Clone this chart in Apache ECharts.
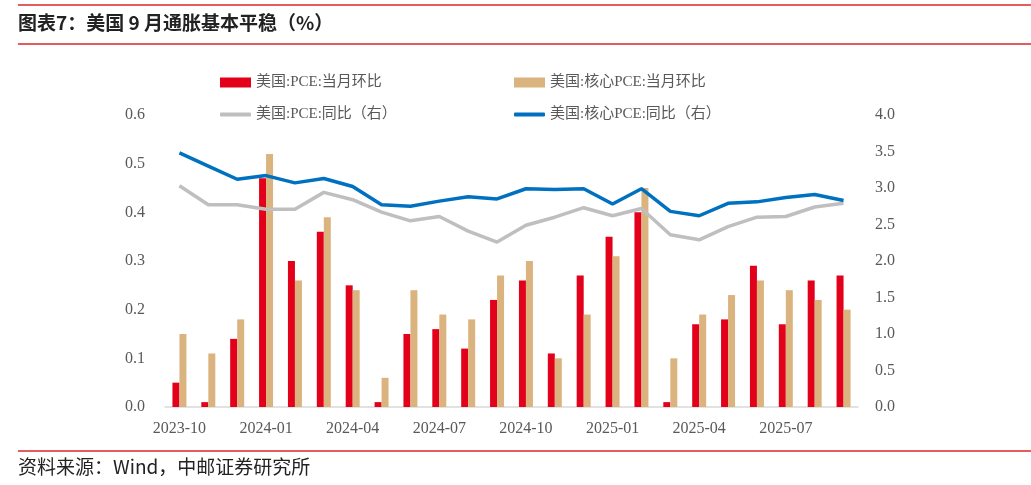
<!DOCTYPE html>
<html><head><meta charset="utf-8">
<script src="https://cdn.jsdelivr.net/npm/echarts@6/dist/echarts.min.js"></script>
<style>html,body{margin:0;padding:0;background:#fff}#c{width:1031px;height:485px}</style>
</head><body><div id="c"></div>
<script>
const categories = ["2023-10","2023-11","2023-12","2024-01","2024-02","2024-03","2024-04","2024-05","2024-06","2024-07","2024-08","2024-09","2024-10","2024-11","2024-12","2025-01","2025-02","2025-03","2025-04","2025-05","2025-06","2025-07","2025-08","2025-09"];
const pceMoM = [0.05,0.01,0.14,0.47,0.30,0.36,0.25,0.01,0.15,0.16,0.12,0.22,0.26,0.11,0.27,0.35,0.40,0.01,0.17,0.18,0.29,0.17,0.26,0.27];
const corePceMoM = [0.15,0.11,0.18,0.52,0.26,0.39,0.24,0.06,0.24,0.19,0.18,0.27,0.30,0.10,0.19,0.31,0.45,0.10,0.19,0.23,0.26,0.24,0.22,0.20];
const pceYoY = [3.03,2.77,2.77,2.71,2.71,2.94,2.84,2.67,2.55,2.61,2.41,2.26,2.49,2.60,2.73,2.62,2.72,2.36,2.29,2.47,2.60,2.61,2.74,2.79];
const corePceYoY = [3.48,3.30,3.12,3.17,3.07,3.13,3.02,2.77,2.75,2.82,2.88,2.85,2.99,2.98,2.99,2.78,2.99,2.68,2.62,2.79,2.81,2.87,2.91,2.83];
const leftTicks = [0,0.1,0.2,0.3,0.4,0.5,0.6];
const rightTicks = [0,0.5,1,1.5,2,2.5,3,3.5,4];
const seriesNames = ["美国:PCE:当月环比","美国:核心PCE:当月环比","美国:PCE:同比（右）","美国:核心PCE:同比（右）"];

const serif = "'Times New Roman','Liberation Serif','Noto Sans CJK SC',serif";
const legendBase = {itemWidth:31,itemHeight:10,itemGap:0,textStyle:{fontFamily:serif,fontSize:15,color:'#595959'}};
function lg(name, left, top, icon, h){
  return Object.assign({}, legendBase, {left:left, top:top, data:[{name:name, icon:icon}], itemHeight:h});
}
const chart = echarts.init(document.getElementById('c'), null, {renderer:'canvas'});
chart.setOption({
  animation:false,
  backgroundColor:'#fff',
  graphic:[
    {type:'line',shape:{x1:18,y1:5,x2:1031,y2:5},style:{stroke:'#D9262B',lineWidth:1.3}},
    {type:'text',left:18,top:13,style:{text:'图表7：美国 9 月通胀基本平稳（%）',font:"bold 19px 'Noto Sans CJK SC'",fill:'#222'}},
    {type:'line',shape:{x1:18,y1:44,x2:1031,y2:44},style:{stroke:'#D9262B',lineWidth:1.3}},
    {type:'line',shape:{x1:18,y1:451,x2:1031,y2:451},style:{stroke:'#D9262B',lineWidth:1.3}},
    {type:'text',left:18,top:457,style:{text:'资料来源：Wind，中邮证券研究所',font:"19px 'Noto Sans CJK SC'",fill:'#222'}}
  ],
  legend:[
    lg(seriesNames[0],215,70,'rect',10),
    lg(seriesNames[1],509,70,'rect',10),
    lg(seriesNames[2],215,102,'roundRect',4),
    lg(seriesNames[3],509,102,'roundRect',4)
  ],
  grid:{left:165,right:173,top:115,bottom:78},
  xAxis:{
    type:'category',data:categories,
    axisTick:{show:false},
    axisLine:{lineStyle:{color:'#D9D9D9',width:1.5}},
    axisLabel:{interval:2,color:'#595959',fontFamily:serif,fontSize:16,margin:14}
  },
  yAxis:[
    {type:'value',min:0,max:0.6,interval:0.1,splitLine:{show:false},
     axisLabel:{color:'#595959',fontFamily:serif,fontSize:16,margin:20,formatter:v=>v.toFixed(1)}},
    {type:'value',min:0,max:4,interval:0.5,splitLine:{show:false},
     axisLabel:{color:'#595959',fontFamily:serif,fontSize:16,margin:17,formatter:v=>v.toFixed(1)}}
  ],
  series:[
    {name:seriesNames[0],type:'bar',data:pceMoM,barWidth:7,barGap:'0%',itemStyle:{color:'#E2001A'}},
    {name:seriesNames[1],type:'bar',data:corePceMoM,barWidth:7,barGap:'0%',itemStyle:{color:'#DBB37E'}},
    {name:seriesNames[2],type:'line',yAxisIndex:1,data:pceYoY,symbol:'none',lineStyle:{color:'#BFBFBF',width:3.5},itemStyle:{color:'#BFBFBF'}},
    {name:seriesNames[3],type:'line',yAxisIndex:1,data:corePceYoY,symbol:'none',lineStyle:{color:'#0070C0',width:3.5},itemStyle:{color:'#0070C0'}}
  ]
});
</script></body></html>
